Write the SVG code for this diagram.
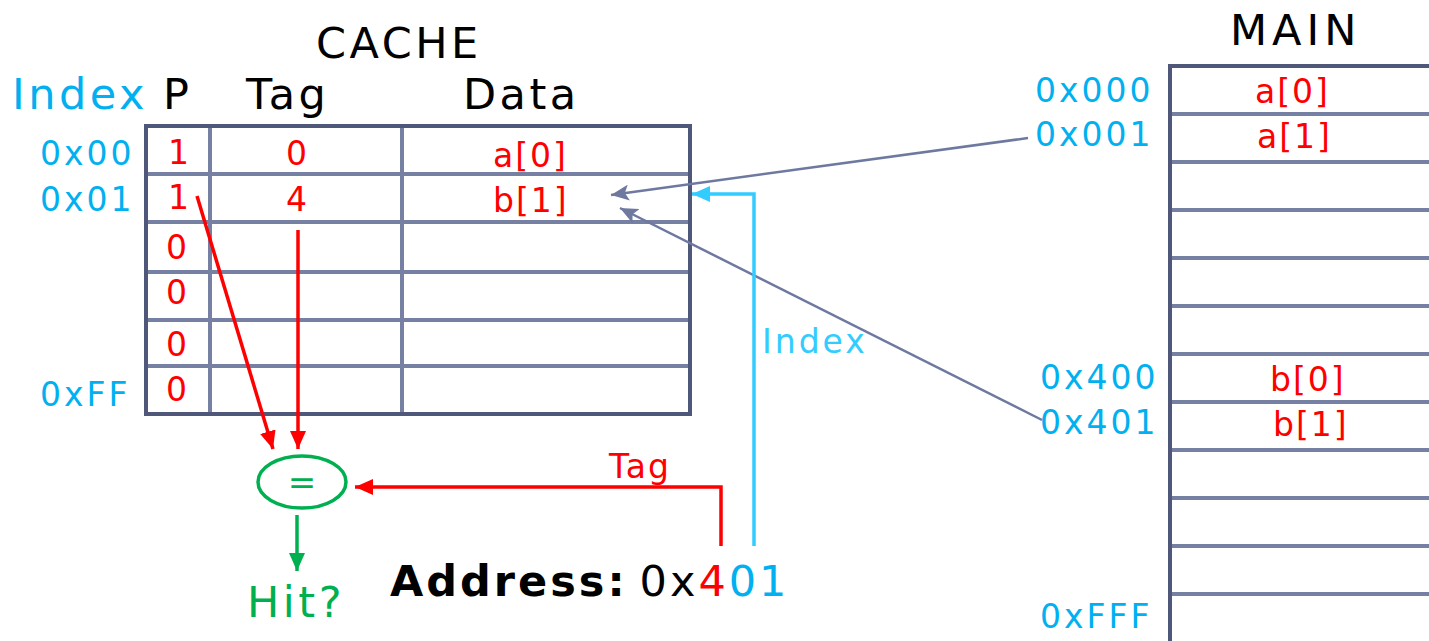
<svg xmlns="http://www.w3.org/2000/svg" width="1429" height="641" viewBox="0 0 1429 641">
  <style>
    text { font-family: "DejaVu Sans", "Liberation Sans", sans-serif; }
    .head { font-size: 43px; letter-spacing: 3.5px; fill: #000; }
    .lbl { font-size: 33px; letter-spacing: 3px; fill: #00b0f0; }
    .val { font-size: 33px; letter-spacing: 2px; fill: #ff0000; }
    .outer { fill: none; stroke: #50587a; stroke-width: 4; }
    .grid { stroke: #7580a3; stroke-width: 4; }
    .ptr { fill: none; stroke: #6e79a0; stroke-width: 2.5; }
    .red { fill: none; stroke: #ff0000; stroke-width: 3.5; }
    .cyan { fill: none; stroke: #33ccff; stroke-width: 3.5; }
    .green { fill: none; stroke: #00b050; stroke-width: 3.5; }
  </style>
  <defs>
    <marker id="ah-gray" markerUnits="userSpaceOnUse" markerWidth="20" markerHeight="16" refX="18" refY="8" orient="auto">
      <path d="M0,0 L18,8 L0,16 L4,8 z" fill="#6e79a0"/>
    </marker>
    <marker id="ah-red" markerUnits="userSpaceOnUse" markerWidth="20" markerHeight="16" refX="18" refY="8" orient="auto">
      <path d="M0,0 L18,8 L0,16 z" fill="#ff0000"/>
    </marker>
    <marker id="ah-cyan" markerUnits="userSpaceOnUse" markerWidth="20" markerHeight="16" refX="18" refY="8" orient="auto">
      <path d="M0,0 L18,8 L0,16 z" fill="#33ccff"/>
    </marker>
    <marker id="ah-green" markerUnits="userSpaceOnUse" markerWidth="20" markerHeight="16" refX="18" refY="8" orient="auto">
      <path d="M0,0 L18,8 L0,16 z" fill="#00b050"/>
    </marker>
  </defs>

  <!-- cache table -->
  <g id="cache">
    <text class="head" x="316" y="58">CACHE</text>
    <text class="head" x="12" y="109" style="fill:#00b0f0">Index</text>
    <text class="head" x="163" y="109">P</text>
    <text class="head" x="246" y="109">Tag</text>
    <text class="head" x="463" y="109">Data</text>
    <g>
      <line class="grid" x1="146" y1="174" x2="690" y2="174"/>
      <line class="grid" x1="146" y1="222" x2="690" y2="222"/>
      <line class="grid" x1="146" y1="272" x2="690" y2="272"/>
      <line class="grid" x1="146" y1="320" x2="690" y2="320"/>
      <line class="grid" x1="146" y1="366" x2="690" y2="366"/>
      <line class="grid" x1="210" y1="126" x2="210" y2="414"/>
      <line class="grid" x1="402" y1="126" x2="402" y2="414"/>
      <rect class="outer" x="146" y="126" width="544" height="288"/>
    </g>
    <text class="lbl" x="40" y="165">0x00</text>
    <text class="lbl" x="40" y="211">0x01</text>
    <text class="lbl" x="40" y="406">0xFF</text>
    <text class="val" x="168" y="164">1</text>
    <text class="val" x="168" y="209">1</text>
    <text class="val" x="166" y="259">0</text>
    <text class="val" x="166" y="304">0</text>
    <text class="val" x="166" y="356">0</text>
    <text class="val" x="166" y="401">0</text>
    <text class="val" x="286" y="165">0</text>
    <text class="val" x="286" y="211">4</text>
    <text class="val" x="493" y="167">a[0]</text>
    <text class="val" x="493" y="212">b[1]</text>
  </g>

  <!-- main memory -->
  <g id="main">
    <text class="head" x="1230" y="45" style="letter-spacing:5px">MAIN</text>
    <g>
      <line class="grid" x1="1170" y1="114" x2="1429" y2="114"/>
      <line class="grid" x1="1170" y1="162" x2="1429" y2="162"/>
      <line class="grid" x1="1170" y1="210" x2="1429" y2="210"/>
      <line class="grid" x1="1170" y1="258" x2="1429" y2="258"/>
      <line class="grid" x1="1170" y1="306" x2="1429" y2="306"/>
      <line class="grid" x1="1170" y1="354" x2="1429" y2="354"/>
      <line class="grid" x1="1170" y1="402" x2="1429" y2="402"/>
      <line class="grid" x1="1170" y1="450" x2="1429" y2="450"/>
      <line class="grid" x1="1170" y1="498" x2="1429" y2="498"/>
      <line class="grid" x1="1170" y1="546" x2="1429" y2="546"/>
      <line class="grid" x1="1170" y1="594" x2="1429" y2="594"/>
      <path class="outer" d="M1170,641 V66 H1429"/>
    </g>
    <text class="lbl" x="1035" y="102">0x000</text>
    <text class="lbl" x="1035" y="146">0x001</text>
    <text class="lbl" x="1040" y="389">0x400</text>
    <text class="lbl" x="1040" y="434">0x401</text>
    <text class="lbl" x="1040" y="628">0xFFF</text>
    <text class="val" x="1255" y="103">a[0]</text>
    <text class="val" x="1257" y="148">a[1]</text>
    <text class="val" x="1270" y="391">b[0]</text>
    <text class="val" x="1273" y="436">b[1]</text>
  </g>

  <!-- comparator -->
  <g id="compare">
    <ellipse class="green" cx="302" cy="482" rx="44" ry="26"/>
    <text x="302" y="494" text-anchor="middle" style="font-size:34px;fill:#00b050">=</text>
  </g>

  <g id="hit">
    <text x="247" y="617" style="font-size:43px;letter-spacing:3.5px;fill:#00b050">Hit?</text>
  </g>

  <g id="address">
    <text x="390" y="596" style="font-size:43px;letter-spacing:3px"><tspan style="font-weight:bold;fill:#000">Address:</tspan><tspan dx="12" style="fill:#000">0x</tspan><tspan style="fill:#ff0000">4</tspan><tspan style="fill:#00b0f0">01</tspan></text>
  </g>

  <!-- connectors -->
  <g id="connectors">
    <line class="ptr" x1="1028" y1="138" x2="611" y2="195" marker-end="url(#ah-gray)"/>
    <line class="ptr" x1="1042" y1="420" x2="620" y2="208" marker-end="url(#ah-gray)"/>
    <polyline class="cyan" points="754,546 754,194 692,194" marker-end="url(#ah-cyan)"/>
    <text class="lbl" x="762" y="353" style="fill:#33ccff">Index</text>
    <polyline class="red" points="721,546 721,487 355,487" marker-end="url(#ah-red)"/>
    <text class="val" x="609" y="478">Tag</text>
    <line class="red" x1="197" y1="196" x2="273" y2="449" marker-end="url(#ah-red)"/>
    <line class="red" x1="298" y1="230" x2="298" y2="449" marker-end="url(#ah-red)"/>
    <line class="green" x1="297" y1="515" x2="297" y2="571" marker-end="url(#ah-green)"/>
  </g>
</svg>
